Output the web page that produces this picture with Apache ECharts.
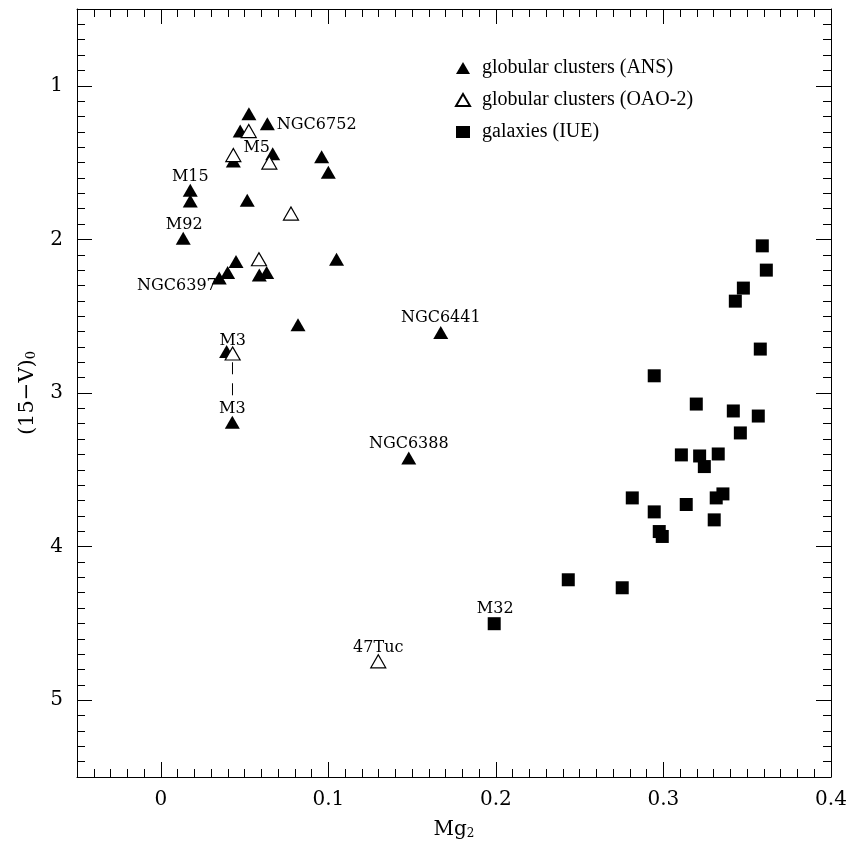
<!DOCTYPE html>
<html>
<head>
<meta charset="utf-8">
<script src="https://cdn.jsdelivr.net/npm/echarts@6/dist/echarts.min.js"></script>
<style>
  html, body { margin: 0; padding: 0; background: #fff; }
  #chart { width: 852px; height: 845px; }
</style>
</head>
<body>
<div id="chart"></div>
<script>
// Axis ranges and labelled tick values
const xRange = [-0.05, 0.4];
const yRange = [0.5, 5.5];
const xMajorTicks = [0, 0.1, 0.2, 0.3, 0.4];
const yMajorTicks = [1, 2, 3, 4, 5];
const xMinorStep = 0.01;
const yMinorStep = 0.1;

// Series names
const seriesNames = ['globular clusters (ANS)', 'globular clusters (OAO-2)', 'galaxies (IUE)'];

// Globular clusters, ANS photometry: [Mg2, (15-V)0, name]
const ansPoints = [
  [0.0526, 1.182],
  [0.0636, 1.247, 'NGC6752'],
  [0.0474, 1.295],
  [0.0433, 1.490],
  [0.0668, 1.442, 'M5'],
  [0.0960, 1.462],
  [0.1000, 1.563],
  [0.0176, 1.680, 'M15'],
  [0.0176, 1.750],
  [0.0516, 1.745],
  [0.0134, 1.992, 'M92'],
  [0.0449, 2.144],
  [0.1049, 2.129],
  [0.0399, 2.216],
  [0.0349, 2.252, 'NGC6397'],
  [0.0588, 2.231],
  [0.0632, 2.216],
  [0.0819, 2.556],
  [0.0393, 2.730],
  [0.0427, 3.191, 'M3'],
  [0.1671, 2.606, 'NGC6441'],
  [0.1480, 3.423, 'NGC6388']
];

// Globular clusters, OAO-2 photometry
const oaoPoints = [
  [0.0525, 1.295],
  [0.0433, 1.451],
  [0.0648, 1.500],
  [0.0777, 1.832],
  [0.0586, 2.129],
  [0.0429, 2.743, 'M3'],
  [0.1298, 4.747, '47Tuc']
];

// Galaxies, IUE
const iuePoints = [
  [0.3590, 2.042],
  [0.3614, 2.200],
  [0.3477, 2.317],
  [0.3429, 2.402],
  [0.3578, 2.714],
  [0.2945, 2.888],
  [0.3196, 3.072],
  [0.3417, 3.117],
  [0.3566, 3.150],
  [0.3459, 3.260],
  [0.3107, 3.403],
  [0.3216, 3.410],
  [0.3327, 3.397],
  [0.3244, 3.479],
  [0.2814, 3.683],
  [0.2945, 3.774],
  [0.3136, 3.726],
  [0.3355, 3.657],
  [0.3315, 3.683],
  [0.3303, 3.826],
  [0.2975, 3.902],
  [0.2993, 3.934],
  [0.2432, 4.216],
  [0.2754, 4.268],
  [0.1990, 4.502, 'M32']
];

// Dashed connector between the two M3 measurements
const m3Link = [[0.0428, 2.80], [0.0428, 3.07]];

// Where each object name sits relative to its marker
const labelPlacement = {
  'NGC6752': { position: 'right', distance: 2, offset: [0, 1] },
  'M5': { position: 'inside', offset: [-16, -6] },
  'M15': { position: 'inside', offset: [0, -13] },
  'M92': { position: 'inside', offset: [1, -13] },
  'NGC6397': { position: 'left', distance: -5, offset: [0, 8] },
  'M3': { position: 'inside', offset: [0, -13] },
  'NGC6441': { position: 'inside', offset: [0, -15] },
  'NGC6388': { position: 'inside', offset: [0, -14] },
  '47Tuc': { position: 'inside', offset: [0, -13] },
  'M32': { position: 'inside', offset: [1, -15] }
};

const serif = 'DejaVu Serif';
const labelFont = { fontFamily: serif, fontSize: 16, color: '#000' };

function toData(points) {
  return points.map(function (p) {
    const item = { value: [p[0], p[1]] };
    if (p[2]) {
      item.label = Object.assign({ show: true, formatter: p[2] }, labelFont, labelPlacement[p[2]]);
    }
    return item;
  });
}

function fmtTick(v) {
  return String(Math.round(v * 10) / 10);
}

const black = '#000';

// Minor tick axes carry the frame line; major tick axes carry long ticks and labels
function minorX(pos) {
  return {
    type: 'value', position: pos, min: xRange[0], max: xRange[1], interval: xMinorStep,
    axisLine: { show: true, onZero: false, lineStyle: { color: black, width: 1 } },
    axisTick: { show: true, inside: true, length: 8, lineStyle: { color: black, width: 1 } },
    axisLabel: { show: false }, splitLine: { show: false }
  };
}
function majorX(pos, labels) {
  return {
    type: 'value', position: pos, min: xRange[0], max: xRange[1],
    axisLine: { show: false, onZero: false },
    axisTick: { show: true, inside: true, length: 15, customValues: xMajorTicks, lineStyle: { color: black, width: 1 } },
    axisLabel: labels ? { show: true, customValues: xMajorTicks, formatter: fmtTick, margin: 13,
      fontFamily: serif, fontSize: 20, color: black } : { show: false },
    splitLine: { show: false }
  };
}
function minorY(pos) {
  return {
    type: 'value', position: pos, min: yRange[0], max: yRange[1], interval: yMinorStep, inverse: true,
    axisLine: { show: true, onZero: false, lineStyle: { color: black, width: 1 } },
    axisTick: { show: true, inside: true, length: 8, lineStyle: { color: black, width: 1 } },
    axisLabel: { show: false }, splitLine: { show: false }
  };
}
function majorY(pos, labels) {
  return {
    type: 'value', position: pos, min: yRange[0], max: yRange[1], inverse: true,
    axisLine: { show: false, onZero: false },
    axisTick: { show: true, inside: true, length: 15, customValues: yMajorTicks, lineStyle: { color: black, width: 1 } },
    axisLabel: labels ? { show: true, customValues: yMajorTicks, formatter: fmtTick, margin: 14,
      fontFamily: serif, fontSize: 20, color: black } : { show: false },
    splitLine: { show: false }
  };
}

const xBottomMajor = majorX('bottom', true);
xBottomMajor.name = 'Mg{sub|2}';
xBottomMajor.nameLocation = 'middle';
xBottomMajor.nameGap = 43;
xBottomMajor.nameTextStyle = {
  fontFamily: serif, fontSize: 20, color: black,
  rich: { sub: { fontFamily: serif, fontSize: 12, color: black, verticalAlign: 'bottom', padding: [8, 0, 0, 0] } }
};

const yLeftMajor = majorY('left', true);
yLeftMajor.name = '(15\u2212V){sub|0}';
yLeftMajor.nameLocation = 'middle';
yLeftMajor.nameRotate = 90;
yLeftMajor.nameGap = 39;
yLeftMajor.nameTextStyle = {
  fontFamily: serif, fontSize: 21, color: black,
  rich: { sub: { fontFamily: serif, fontSize: 13, color: black, verticalAlign: 'bottom', padding: [8, 0, 0, 0] } }
};

const chart = echarts.init(document.getElementById('chart'), null, { renderer: 'canvas' });

chart.setOption({
  animation: false,
  backgroundColor: '#fff',
  grid: { left: 77, right: 21, top: 9, bottom: 67, containLabel: false },
  xAxis: [minorX('bottom'), xBottomMajor, minorX('top'), majorX('top', false)],
  yAxis: [minorY('left'), yLeftMajor, minorY('right'), majorY('right', false)],
  legend: {
    orient: 'vertical', left: 450, top: 53, itemGap: 12,
    itemWidth: 14, itemHeight: 12,
    data: seriesNames,
    textStyle: { fontFamily: 'Liberation Serif', fontSize: 20, color: black, padding: [0, 0, 0, 7] }
  },
  series: [
    {
      name: 'M3 link', type: 'line', xAxisIndex: 0, yAxisIndex: 0,
      data: m3Link, showSymbol: false, symbol: 'none', silent: true,
      lineStyle: { color: black, width: 1, type: [12, 9] }
    },
    {
      name: seriesNames[0], type: 'scatter', xAxisIndex: 0, yAxisIndex: 0,
      symbol: 'triangle', symbolSize: [15, 13],
      itemStyle: { color: black, opacity: 1 },
      data: toData(ansPoints)
    },
    {
      name: seriesNames[1], type: 'scatter', xAxisIndex: 0, yAxisIndex: 0,
      symbol: 'triangle', symbolSize: [15, 13],
      itemStyle: { color: '#fff', borderColor: black, borderWidth: 1.2, opacity: 1 },
      data: toData(oaoPoints)
    },
    {
      name: seriesNames[2], type: 'scatter', xAxisIndex: 0, yAxisIndex: 0,
      symbol: 'rect', symbolSize: 13,
      itemStyle: { color: black, opacity: 1 },
      data: toData(iuePoints)
    }
  ]
});
</script>
</body>
</html>
